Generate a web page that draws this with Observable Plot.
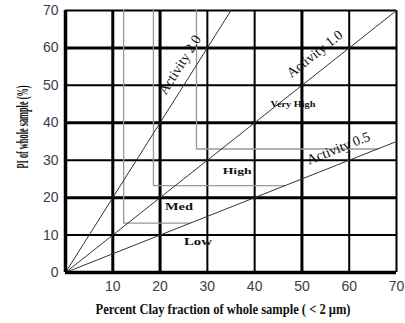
<!DOCTYPE html>
<html>
<head>
<meta charset="utf-8">
<script src="https://cdn.jsdelivr.net/npm/d3@7"></script>
<script src="https://cdn.jsdelivr.net/npm/@observablehq/plot@0.6"></script>
<style>
  html, body { margin: 0; padding: 0; background: #fff; }
  #chart svg { display: block; }
</style>
</head>
<body>
<div id="chart"></div>
<script>
// ---- data ----
const clayTicks = [10, 20, 30, 40, 50, 60, 70];
const piTicks = [0, 10, 20, 30, 40, 50, 60, 70];
const gridValues = [10, 20, 30, 40, 50, 60];

const activityValues = [2.0, 1.0, 0.5];
const activityLabels = ["Activity 2.0", "Activity 1.0", "Activity 0.5"];
const activityLabelClay = [24.2, 52.7, 57.7];
const activityLabelPI = [55.5, 58.4, 33.2];

const zoneNames = ["Low", "Med", "High", "Very High"];
const zoneLabelClay = [28.0, 24.0, 36.3, 48.1];
const zoneLabelPI = [8.2, 17.6, 26.9, 44.8];

const boundaryClay = [12.3, 18.6, 27.7];
const boundaryPI = [13.2, 23.2, 33.0];

const xLabel = "Percent Clay fraction of whole sample ( < 2 \u03bcm)";
const yLabel = "PI of whole sample (%)";

// ---- derived tables ----
const maxV = 70;
const minActivity = d3.min(activityValues);
const activityLines = activityValues.flatMap((a, i) => {
  const xe = Math.min(maxV, maxV / a);
  return [{id: i, x: 0, y: 0}, {id: i, x: xe, y: a * xe}];
});
const boundaryLines = boundaryClay.flatMap((bx, i) => {
  const by = boundaryPI[i];
  return [
    {id: i, x: bx, y: maxV},
    {id: i, x: bx, y: by},
    {id: i, x: by / minActivity, y: by}
  ];
});

const W = 405, H = 323;
const mL = 65, mR = 9, mT = 10, mB = 51;
const pxX = (W - mL - mR) / maxV, pxY = (H - mT - mB) / maxV;
const angle = a => -Math.atan(a * pxY / pxX) * 180 / Math.PI;

const actLabelData = activityLabels.map((t, i) => ({
  t, x: activityLabelClay[i], y: activityLabelPI[i], r: angle(activityValues[i])
}));
const zoneData = zoneNames.map((t, i) => ({t, x: zoneLabelClay[i], y: zoneLabelPI[i]}));
const bigZone = ["Low", "Med"];

const thickX = [10, 20, 50];
const thickY = [20, 40, 60];

const chart = Plot.plot({
  width: W, height: H,
  marginLeft: mL, marginRight: mR, marginTop: mT, marginBottom: mB,
  x: {domain: [0, maxV]},
  y: {domain: [0, maxV]},
  style: {background: "#fff"},
  marks: [
    Plot.ruleX(gridValues.filter(d => !thickX.includes(d)), {stroke: "#000", strokeWidth: 2}),
    Plot.ruleX(gridValues.filter(d => thickX.includes(d)), {stroke: "#000", strokeWidth: 3}),
    Plot.ruleY(gridValues.filter(d => !thickY.includes(d)), {stroke: "#000", strokeWidth: 2}),
    Plot.ruleY(gridValues.filter(d => thickY.includes(d)), {stroke: "#000", strokeWidth: 3}),
    Plot.ruleX([maxV], {stroke: "#000", strokeWidth: 2}),
    Plot.ruleY([maxV], {stroke: "#000", strokeWidth: 2}),
    Plot.line(boundaryLines, {x: "x", y: "y", z: "id", stroke: "#999", strokeWidth: 1.3}),
    Plot.line(activityLines, {x: "x", y: "y", z: "id", stroke: "#333", strokeWidth: 1}),
    Plot.ruleX([0], {stroke: "#000", strokeWidth: 3.5}),
    Plot.ruleY([0], {stroke: "#000", strokeWidth: 3.5}),
    Plot.text(actLabelData, {
      x: "x", y: "y", text: "t", rotate: "r",
      fontFamily: "Liberation Serif", fontSize: 14, fill: "#111"
    }),
    Plot.text(zoneData.filter(d => bigZone.includes(d.t)), {
      x: "x", y: "y", text: "t",
      fontFamily: "Liberation Serif", fontWeight: "bold", fontSize: 10, fill: "#111"
    }),
    Plot.text(zoneData.filter(d => !bigZone.includes(d.t)), {
      x: "x", y: "y", text: "t",
      fontFamily: "Liberation Serif", fontWeight: "bold", fontSize: 8, fill: "#111"
    }),
    Plot.axisX(clayTicks, {
      tickSize: 0, tickPadding: 9, label: null,
      fontFamily: "Liberation Sans", fontSize: 14, fill: "#3c3c4a"
    }),
    Plot.axisY(piTicks, {
      tickSize: 0, tickPadding: 7, label: null,
      fontFamily: "Liberation Sans", fontSize: 14, fill: "#3c3c4a"
    }),
    Plot.text([xLabel], {
      frameAnchor: "bottom-left", dy: 41, dx: 30, text: d => d, textAnchor: "start",
      fontFamily: "Liberation Serif", fontWeight: "bold", fontSize: 14, fill: "#111"
    }),
    Plot.text([yLabel], {
      frameAnchor: "left", dx: -43, dy: 27, rotate: -90, text: d => d, textAnchor: "start",
      fontFamily: "Liberation Serif", fontWeight: "bold", fontSize: 16, fill: "#111"
    })
  ]
});

document.getElementById("chart").appendChild(chart);

// fit condensed label fonts to the reference widths
const fit = {};
fit[xLabel] = 255;
fit[yLabel] = 83;
fit["Very High"] = 45;
fit["High"] = 29;
fit["Med"] = 28;
fit["Low"] = 28;
d3.select(chart).selectAll("text").each(function() {
  const t = this.textContent;
  if (fit[t] !== undefined) {
    d3.select(this).attr("textLength", fit[t]).attr("lengthAdjust", "spacingAndGlyphs");
  }
});
</script>
</body>
</html>
